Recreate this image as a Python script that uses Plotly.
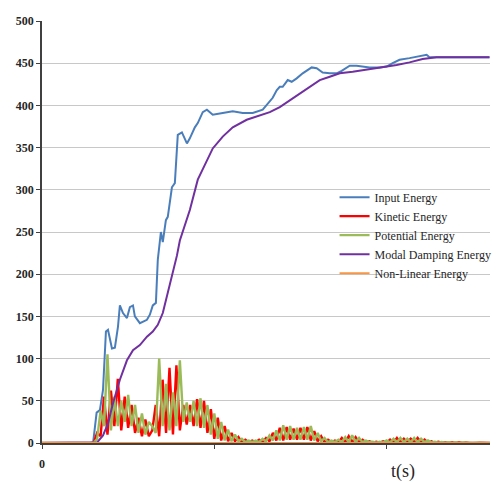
import plotly.graph_objects as go
import numpy as np

# ---- data ----
t_input = [0, 2.78, 2.97, 3.17, 3.36, 3.54, 3.71, 3.83, 4.06, 4.23, 4.41, 4.52, 4.70, 4.93, 5.10, 5.28,
           5.39, 5.68, 6.09, 6.26, 6.43, 6.61, 6.72, 6.90, 7.01, 7.19, 7.30, 7.54, 7.71, 7.88, 8.12,
           8.41, 8.58, 8.87, 9.04, 9.33, 9.57, 9.91, 10.49, 11.07, 11.65, 12.23, 12.81, 13.22, 13.39,
           13.62, 13.80, 13.97, 14.26, 14.49, 14.78, 15.13, 15.42, 15.65, 15.94, 16.29, 16.70, 17.10,
           17.39, 17.86, 18.26, 18.61, 19.01, 19.59, 20.0, 20.35, 20.75, 21.33, 21.91, 22.32, 22.49,
           22.90, 25.97]
input_energy = [0, 0, 1, 36, 39, 63, 132, 134, 112, 113, 138, 163, 154, 148, 161, 163,
                150, 142, 146, 152, 163, 166, 217, 250, 238, 264, 268, 303, 308, 365, 368,
                355, 361, 374, 379, 392, 395, 389, 391, 393, 391, 391, 395, 404, 409,
                418, 422, 422, 430, 428, 432, 438, 442, 445, 444, 439, 438, 438,
                441, 447, 447, 446, 445, 445, 446, 450, 454, 456, 458, 460, 457,
                457, 457]

t_damp = [0, 3.07, 3.19, 3.54, 3.83, 4.12, 4.52, 4.93, 5.28, 5.68, 6.09, 6.43, 6.72, 7.01, 7.30,
          7.59, 7.83, 8.0, 8.58, 9.04, 9.57, 9.91, 10.49, 11.07, 11.88, 12.81, 13.22, 13.8, 14.38,
          14.96, 15.54, 16.12, 16.7, 17.28, 18.03, 19.01, 19.77, 20.58, 21.33, 22.09, 22.9, 25.97]
damping_energy = [0, 0, 0.5, 9, 23, 47, 75, 98, 110, 116, 126, 132, 140, 154, 177,
                  201, 222, 240, 276, 312, 335, 349, 363, 374, 383, 389, 392, 398, 406,
                  414, 422, 430, 434, 438, 440, 443, 445, 448, 451, 455, 457, 457]

# sampled every 0.2 s from 0 to 26 s
t_osc = np.round(np.arange(0, 26.0001, 0.2), 2)
kinetic_energy = [0, 0, 0, 0, 0, 0, 0, 0, 0, 0, 0, 0, 0, 0, 0.3,
                  0, 12, 8, 55, 10, 62, 20, 76, 15, 55, 18, 45, 12, 30, 8,
                  28, 8, 15, 45, 8, 75, 12, 89, 10, 92, 15, 45, 22, 45, 20,
                  52, 18, 50, 12, 40, 5, 30, 3, 20, 2, 12, 2, 7, 1, 4,
                  1, 3, 1, 4, 1, 6, 2, 12, 3, 18, 3, 19, 4, 17, 4,
                  18, 4, 19, 3, 14, 2, 8, 1, 4, 1, 3, 1, 6, 1, 8,
                  1, 7, 1, 4, 1, 2, 0.5, 1.5, 0.5, 2, 0.5, 4, 0.5, 6, 1,
                  5, 1, 5, 1, 6, 1, 4, 0.5, 2, 0.3, 1.5, 0.3, 1, 0.2, 1,
                  0.2, 0.8, 0.2, 0.6, 0.1, 0.5, 0.1, 0.4, 0.1, 0.3, 0.1]
potential_energy = [0, 0, 0, 0, 0, 0, 0, 0, 0, 0, 0, 0, 0, 0, 0.3,
                    0, 5, 38, 20, 105, 15, 55, 20, 50, 25, 57, 20, 45, 12, 35,
                    10, 25, 20, 12, 100, 20, 70, 15, 60, 20, 98, 25, 48, 25, 50,
                    20, 53, 18, 45, 10, 35, 5, 25, 3, 16, 2, 10, 2, 5, 1,
                    3, 1, 3, 1, 5, 2, 9, 3, 15, 3, 21, 4, 20, 4, 18,
                    4, 19, 4, 20, 3, 12, 2, 6, 1, 3, 1, 4, 1, 7, 1,
                    9, 1, 6, 1, 3, 1, 1.5, 0.5, 1.5, 0.5, 3, 0.5, 5, 1, 6,
                    1, 5, 1, 6, 1, 5, 1, 3, 0.5, 1.5, 0.3, 1.2, 0.3, 1, 0.2,
                    0.8, 0.2, 0.6, 0.2, 0.5, 0.1, 0.4, 0.1, 0.3, 0.1, 0.2]

t_nonlin = [0, 13, 25.97]
nonlinear_energy = [0, 0, 0]

series_names = ["Input Energy", "Kinetic Energy", "Potential Energy",
                "Modal Damping Energy", "Non-Linear Energy"]
y_ticks = [0, 50, 100, 150, 200, 250, 300, 350, 400, 450, 500]
x_ticks = [0, 10, 20]
x_tick_text = ["0", "", ""]

# ---- figure ----
fig = go.Figure()
fig.add_trace(go.Scatter(x=t_input, y=input_energy, mode="lines", name=series_names[0],
                         line=dict(color="#4A7EBB", width=2)))
fig.add_trace(go.Scatter(x=t_osc, y=kinetic_energy, mode="lines", name=series_names[1],
                         line=dict(color="#FF0000", width=2.4)))
fig.add_trace(go.Scatter(x=t_osc, y=potential_energy, mode="lines", name=series_names[2],
                         line=dict(color="#9BBB59", width=2.4)))
fig.add_trace(go.Scatter(x=t_damp, y=damping_energy, mode="lines", name=series_names[3],
                         line=dict(color="#7030A0", width=2)))
fig.add_trace(go.Scatter(x=t_nonlin, y=nonlinear_energy, mode="lines", name=series_names[4],
                         line=dict(color="#F79646", width=2)))

serif = "Times New Roman, Liberation Serif, serif"
fig.update_layout(
    width=499, height=482,
    margin=dict(l=42, r=9, t=21, b=39, autoexpand=False),
    paper_bgcolor="white", plot_bgcolor="white",
    font=dict(family=serif, color="#262626", size=12),
    showlegend=True,
    legend=dict(x=0.653, y=0.617, xanchor="left", yanchor="top",
                bgcolor="rgba(0,0,0,0)", borderwidth=0,
                font=dict(family=serif, size=12, color="#262626"),
                tracegroupgap=0),
    xaxis=dict(range=[0, 26], tickvals=x_ticks, ticktext=x_tick_text,
               showgrid=False, zeroline=False, showline=True, linecolor="#404040", linewidth=1.5,
               ticks="outside", ticklen=4, tickcolor="#404040",
               tickfont=dict(family=serif, size=12, color="#262626", weight="bold"),
               ticklabelstandoff=5),
    yaxis=dict(range=[0, 500], tickvals=y_ticks,
               showgrid=True, gridcolor="#C8C8C8", gridwidth=1,
               zeroline=False, showline=True, linecolor="#404040", linewidth=1.5,
               ticks="outside", ticklen=4, tickcolor="#404040",
               tickfont=dict(family=serif, size=12, color="#262626", weight="bold")),
    annotations=[dict(text="t(s)", x=(403 - 42) / 448, xref="paper", xanchor="center",
                      y=-(471 - 443) / 422, yref="paper", yanchor="middle", showarrow=False,
                      font=dict(family=serif, size=18, color="#262626"))],
)
fig.write_html("out.html", config={"displayModeBar": False},
               post_script="document.body.style.margin='0px';")
